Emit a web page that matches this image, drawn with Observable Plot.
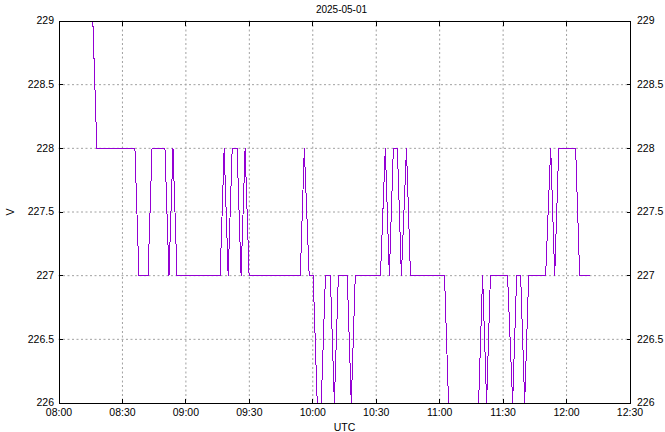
<!DOCTYPE html>
<html><head><meta charset="utf-8">
<script src="https://cdn.jsdelivr.net/npm/d3@7"></script>
<script src="https://cdn.jsdelivr.net/npm/@observablehq/plot@0.6"></script>
<style>body{margin:0;background:#fff}</style>
</head><body><div id="chart"></div>
<script>
const day = "2025-05-01";
const title = "2025-05-01";
const xLabel = "UTC";
const yLabel = "V";
const times = ["08:16:00","08:17:54","08:35:54","08:37:48","08:42:06","08:44:00","08:50:06","08:52:00","08:53:54","08:55:48",
  "09:16:12","09:18:06","09:20:00","09:21:54","09:24:12","09:26:06","09:28:00","09:29:54","09:54:06","09:56:00",
  "09:58:18","10:00:12","10:02:06","10:04:00","10:06:00","10:08:18","10:10:12","10:12:06","10:16:18","10:18:12",
  "10:20:06","10:32:00","10:34:18","10:36:12","10:38:06","10:40:00","10:41:54","10:44:18","10:46:12","11:02:18",
  "11:04:12","11:18:24","11:20:18","11:22:12","11:24:00","11:32:06","11:34:30","11:36:24","11:38:18","11:40:12",
  "11:42:06","11:50:06","11:52:30","11:54:24","11:56:18","12:04:18","12:06:12","12:10:48"];
const volts = [229,228,228,227,227,228,228,227,228,227,
  227,228,227,228,228,227,228,227,227,228,
  227,227,226,226,227,227,226,227,227,226,
  227,227,228,227,228,228,227,228,227,227,
  226,226,227,226,227,227,226,227,227,226,
  227,227,228,227,228,228,227,227];
const yTicks = [226, 226.5, 227, 227.5, 228, 228.5, 229];
const xTickLabels = ["08:00","08:30","09:00","09:30","10:00","10:30","11:00","11:30","12:00","12:30"];

const toDate = t => new Date(`${day}T${t}Z`);
const data = times.map((t, i) => ({t: toDate(t), v: volts[i]}));
const xTicks = xTickLabels.map(s => toDate(s + ":00"));
const gridStyle = {stroke: "#a0a0a0", strokeOpacity: 1, strokeDasharray: "2,2.5"};

const chart = Plot.plot({
  width: 665, height: 432,
  marginLeft: 58.5, marginRight: 35.5, marginTop: 20.5, marginBottom: 29.5,
  style: {fontFamily: "Liberation Sans", fontSize: "10.5px", background: "#fff", color: "#000"},
  x: {type: "utc", domain: [xTicks[0], xTicks[xTicks.length - 1]]},
  y: {domain: [yTicks[0], yTicks[yTicks.length - 1]]},
  marks: [
    Plot.gridX(xTicks.slice(1, -1), gridStyle),
    Plot.gridY(yTicks.slice(1, -1), gridStyle),
    Plot.line(data, {x: "t", y: "v", stroke: "#9400d3", strokeWidth: 1, shapeRendering: "crispEdges"}),
    Plot.frame({stroke: "#000", strokeWidth: 1, shapeRendering: "crispEdges"}),
    Plot.axisX(xTicks, {anchor: "bottom", tickSize: -4, fill: "none", label: null, shapeRendering: "crispEdges"}),
    Plot.axisX(xTicks, {anchor: "top", tickSize: -4, fill: "none", label: null, shapeRendering: "crispEdges"}),
    Plot.axisY(yTicks, {anchor: "left", tickSize: -4, fill: "none", label: null, shapeRendering: "crispEdges"}),
    Plot.axisY(yTicks, {anchor: "right", tickSize: -4, fill: "none", label: null, shapeRendering: "crispEdges"}),
    Plot.axisX(xTicks, {anchor: "bottom", tickSize: 0, tickPadding: 6, tickFormat: d3.utcFormat("%H:%M"),
      label: xLabel, labelAnchor: "center", labelArrow: "none", labelOffset: 28}),
    Plot.axisY(yTicks, {anchor: "left", tickSize: 0, tickPadding: 5, tickFormat: d => String(d),
      label: yLabel, labelAnchor: "center", labelArrow: "none", labelOffset: 52}),
    Plot.axisY(yTicks, {anchor: "right", tickSize: 0, tickPadding: 7, tickFormat: d => String(d), label: null}),
    Plot.text([title], {frameAnchor: "top", dy: -15, dx: -3, fontSize: 10})
  ]
});
document.getElementById("chart").appendChild(chart);
</script>
</body></html>
